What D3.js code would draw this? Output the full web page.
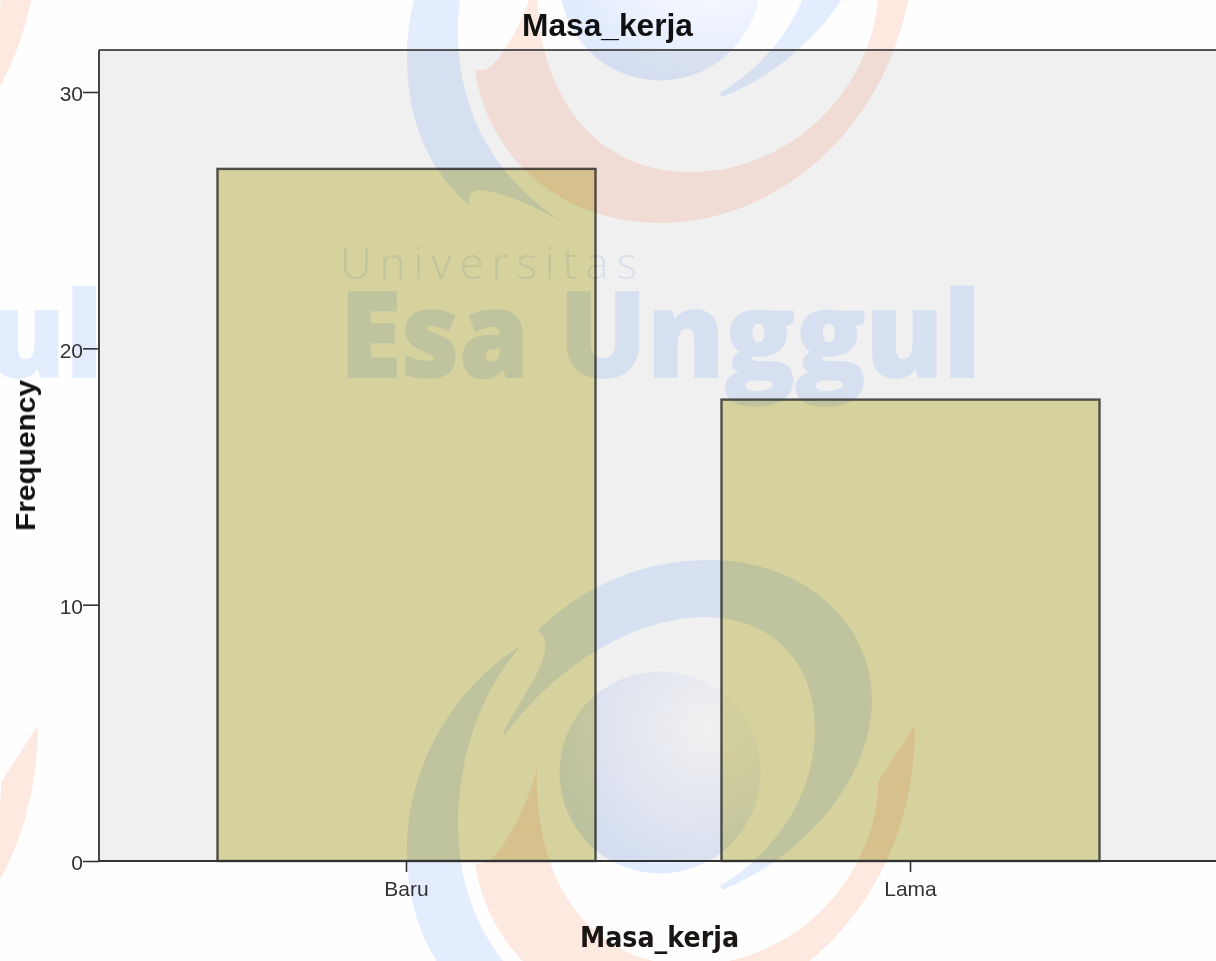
<!DOCTYPE html>
<html><head><meta charset="utf-8">
<script src="https://cdn.jsdelivr.net/npm/d3@7"></script>
<style>
html,body{margin:0;padding:0;background:#fff;overflow:hidden}
svg{display:block;filter:blur(0.6px)}
text{font-family:"Liberation Sans",Arial,sans-serif}
</style></head><body>
<svg id="c" width="1216" height="961"></svg>
<script>
const categories = ["Baru", "Lama"];
const counts = [27, 18];
const yTicks = [0, 10, 20, 30];
const chartTitle = "Masa_kerja";
const xTitle = "Masa_kerja";
const yTitle = "Frequency";

const W = 1216, H = 961;
const plot = {left: 99, top: 50, bottom: 861, right: 1225};
const svg = d3.select("#c");
svg.append("rect").attr("width", W).attr("height", H).attr("fill", "#fefefe");

const x = d3.scaleBand().domain(categories).range([91.5, 1225.5]).padding(0.25);
const y = d3.scaleLinear().domain([0, 30]).range([plot.bottom, 92]);

svg.append("rect").attr("x", plot.left).attr("y", plot.top)
  .attr("width", plot.right - plot.left).attr("height", plot.bottom - plot.top)
  .attr("fill", "#f0f0f0");

svg.append("g").selectAll("rect").data(counts).join("rect")
  .attr("x", (d, i) => x(categories[i]))
  .attr("y", d => y(d))
  .attr("width", x.bandwidth())
  .attr("height", d => y(0) - y(d))
  .attr("fill", "#d6d29e")
  .attr("stroke", "#4e4e48")
  .attr("stroke-width", 2.4);

const defs = svg.append("defs");
const grad = defs.append("radialGradient").attr("id", "ball")
  .attr("gradientUnits", "userSpaceOnUse")
  .attr("cx", 708).attr("cy", 728).attr("r", 150);
grad.append("stop").attr("offset", 0).attr("stop-color", "#ffffff");
grad.append("stop").attr("offset", 0.3).attr("stop-color", "#f8faff");
grad.append("stop").attr("offset", 1).attr("stop-color", "#e2ecff");

const logo = defs.append("g").attr("id", "logo");
const BLUE = "#e4eeff", ORANGE = "#ffeae2";
logo.append("path").attr("fill", ORANGE).attr("d",
  "M537,768 C528,805 505,848 490,860 C484,864 478,864 475,863 C490,960 570,1016 660,1016 C790,1016 915,900 915,725 L878,782 L878,792 C870,885 790,965 690,965 C590,965 533,880 537,768Z");
logo.append("path").attr("fill", BLUE).attr("d",
  "M522,645 C450,690 407,770 407,850 C407,915 430,965 469,998 C468,990 470,985 478,983 C505,985 535,1000 563,1015 C500,975 458,910 458,825 C458,760 480,690 522,645Z");
logo.append("path").attr("fill", BLUE).attr("d",
  "M538,630 C590,580 650,560 710,560 C800,560 872,620 872,700 C872,780 800,860 722,890 L720,886 C780,850 815,790 815,730 C815,660 770,617 705,617 C640,617 560,660 505,735 L503,733 C525,690 552,660 544,637Z");
logo.append("ellipse").attr("cx", 660).attr("cy", 772.5).attr("rx", 100.5).attr("ry", 101)
  .attr("fill", "url(#ball)");

const wordmark = defs.append("g").attr("id", "word");
const heavy = (sel, s) => sel.attr("fill", BLUE).attr("stroke", BLUE).attr("stroke-width", 1.5)
  .attr("lengthAdjust", "spacingAndGlyphs")
  .style("font-family", "'Open Sans'").style("font-weight", "800").style("font-size", "118px").text(s);
wordmark.append("text").attr("x", 340).attr("y", 377).attr("textLength", 189).call(heavy, "Esa");
wordmark.append("text").attr("x", 559).attr("y", 377).attr("textLength", 422).call(heavy, "Unggul");
wordmark.append("text").attr("x", 340).attr("y", 279)
  .attr("textLength", 297).attr("lengthAdjust", "spacing")
  .attr("fill", "#e8eef9")
  .style("font-family", "'Open Sans'").style("font-weight", "300").style("font-size", "44px")
  .text("Universitas");

const wm = svg.append("g").style("mix-blend-mode", "multiply");
[[0, 0], [-877, 0], [0, -793], [-877, -793]].forEach(([dx, dy]) => {
  wm.append("use").attr("href", "#logo").attr("transform", `translate(${dx},${dy})`);
});
[[0, 0], [-878, 0]].forEach(([dx, dy]) => {
  wm.append("use").attr("href", "#word").attr("transform", `translate(${dx},${dy})`);
});

svg.append("line").attr("x1", plot.left).attr("x2", W).attr("y1", plot.top).attr("y2", plot.top)
  .attr("stroke", "#555").attr("stroke-width", 2.2);

const yAxis = svg.append("g").attr("transform", `translate(${plot.left},0)`)
  .call(d3.axisLeft(y).tickValues(yTicks).tickSize(16).tickPadding(0).tickFormat(d3.format("d")));
yAxis.select(".domain").attr("d", `M0,${plot.top}V${plot.bottom}`).attr("stroke", "#444").attr("stroke-width", 2);
yAxis.selectAll(".tick line").attr("stroke", "#333").attr("stroke-width", 1.6);
yAxis.selectAll(".tick text").attr("dy", "0.42em").attr("fill", "#333").style("font-size", "21px");

const xAxis = svg.append("g").attr("transform", `translate(0,${plot.bottom})`)
  .call(d3.axisBottom(x).tickSize(11).tickPadding(9));
xAxis.select(".domain").attr("d", `M${plot.left},0H${W}`).attr("stroke", "#333").attr("stroke-width", 2);
xAxis.selectAll(".tick line").attr("stroke", "#333").attr("stroke-width", 1.6);
xAxis.selectAll(".tick text").attr("fill", "#333").style("font-size", "21px");

svg.append("text").attr("x", 607.5).attr("y", 36).attr("text-anchor", "middle")
  .attr("fill", "#111").style("font-weight", "bold").style("font-size", "31px")
  .attr("textLength", 171).attr("lengthAdjust", "spacingAndGlyphs").text(chartTitle);
svg.append("text").attr("x", 659.5).attr("y", 947).attr("text-anchor", "middle")
  .attr("fill", "#1a1614").style("font-family", "'DejaVu Sans'").style("font-weight", "bold").style("font-size", "29px")
  .attr("textLength", 159).attr("lengthAdjust", "spacingAndGlyphs").text(xTitle);
svg.append("text").attr("transform", "translate(35,455.5) rotate(-90)").attr("text-anchor", "middle")
  .attr("fill", "#111").style("font-weight", "bold").style("font-size", "28px")
  .attr("textLength", 151).attr("lengthAdjust", "spacingAndGlyphs").text(yTitle);
</script>
</body></html>
